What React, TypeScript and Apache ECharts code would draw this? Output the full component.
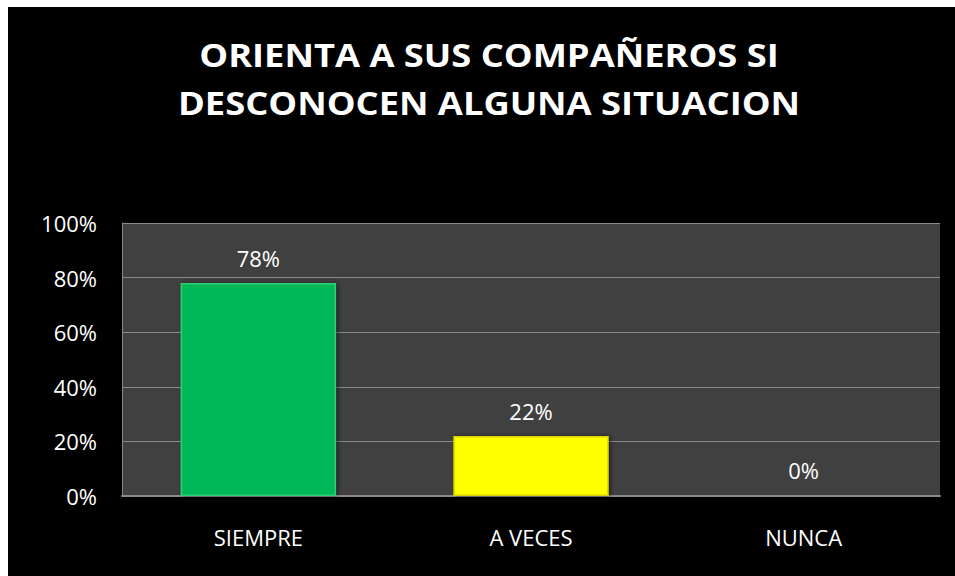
import React, { useEffect, useRef } from "react";
import * as echarts from "echarts";

const categories = ["SIEMPRE", "A VECES", "NUNCA"];
const values = [0.78, 0.22, 0];
const barColors = ["#04B855", "#FFFF00", "#888888"];
const barBorders = ["#2FD077", "#D8D800", "#888888"];
const titleLines = ["ORIENTA A SUS COMPAÑEROS SI", "DESCONOCEN ALGUNA SITUACION"];

export default function App() {
  const ref = useRef<HTMLDivElement>(null);
  useEffect(() => {
    if (!ref.current) return;
    const chart = echarts.init(ref.current, undefined, { renderer: "svg" });
    const font = "'Open Sans', Lato, sans-serif";
    chart.setOption({
      animation: false,
      backgroundColor: "#000000",
      graphic: titleLines.map((t, i) => ({
        type: "text",
        x: 481,
        y: 47 + i * 48,
        scaleX: 1.1,
        style: {
          text: t,
          fill: "#ffffff",
          font: `bold 33px ${font}`,
          align: "center",
          verticalAlign: "middle",
        },
      })),
      grid: {
        left: 114,
        right: 15,
        top: 216,
        bottom: 80,
        show: true,
        backgroundColor: "#404040",
        borderWidth: 0,
      },
      xAxis: {
        type: "category",
        data: categories,
        axisLine: { show: true, lineStyle: { color: "#8a8a8a", width: 2 } },
        axisTick: { show: false },
        axisLabel: { color: "#ffffff", fontSize: 22, fontFamily: font, margin: 30 },
      },
      yAxis: {
        type: "value",
        min: 0,
        max: 1,
        interval: 0.2,
        axisLine: { show: true, lineStyle: { color: "#8a8a8a", width: 1 } },
        axisTick: { show: false },
        splitLine: { show: true, lineStyle: { color: "#8a8a8a", width: 1 } },
        axisLabel: {
          color: "#ffffff",
          fontSize: 22,
          fontFamily: font,
          margin: 25,
          formatter: (v: number) => `${Math.round(v * 100)}%`,
        },
      },
      series: [
        {
          type: "bar",
          barWidth: "57%",
          data: values.map((v, i) => ({
            value: v,
            itemStyle: {
              color: barColors[i],
              borderColor: barBorders[i],
              borderWidth: 1.5,
              shadowColor: "rgba(0,0,0,0.5)",
              shadowBlur: 4,
              shadowOffsetX: 2,
              shadowOffsetY: 0,
            },
          })),
          label: {
            show: true,
            position: "top",
            distance: 14,
            color: "#ffffff",
            fontSize: 22,
            lineHeight: 22,
            fontFamily: font,
            formatter: (p: any) => `${Math.round(p.value * 100)}%`,
          },
        },
      ],
    });
    return () => chart.dispose();
  }, []);
  return (
    <div
      ref={ref}
      style={{ position: "fixed", left: 8, top: 7, width: 947, height: 569, background: "#000" }}
    />
  );
}
